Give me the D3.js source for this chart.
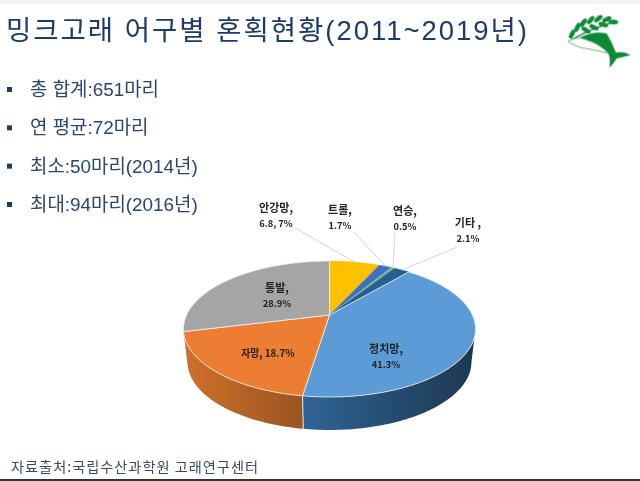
<!DOCTYPE html>
<html><head><meta charset="utf-8">
<script src="https://cdn.jsdelivr.net/npm/d3@7"></script>
<style>html,body{margin:0;padding:0;background:#fff;overflow:hidden}svg{display:block}</style>
</head><body><svg id="c" width="640" height="481"></svg>
<script>
const titleText = "밍크고래 어구별 혼획현황(2011~2019년)";
const bullets = ["총 합계:651마리","연 평균:72마리","최소:50마리(2014년)","최대:94마리(2016년)"];
const sourceText = "자료출처:국립수산과학원 고래연구센터";
const categories = ["안강망","트롤","연승","기타","정치망","자망","통발"];
const values = [6.8,1.7,0.5,2.1,41.3,18.7,28.9];
const sliceColors = ["#ffc000","#3f6fc4","#7db88a","#255e91","#5b9bd5","#ed7d31","#a5a5a5"];
const wallLight = {"정치망":"#2f6496","자망":"#d0702a","통발":"#8a8a8a"};
const wallDark = {"정치망":"#1e3850","자망":"#9a5522","통발":"#6e6e6e"};
const labelLines = [["안강망,","6.8, 7%"],["트롤,","1.7%"],["연승,","0.5%"],["기타 ,","2.1%"],["정치망,","41.3%"],["자망, 18.7%"],["통발,","28.9%"]];
const labelPos = [[276,208],[340,210],[405,211],[468,223],[386,349],[268,353],[277,288]];
const leaderStart = [[295,228],[353,231],[395,233],[457,247]];

const svg = d3.select("#c");
const defs = svg.append("defs");
const navy = "#1f3a68";
defs.append("filter").attr("id","soft").append("feGaussianBlur").attr("stdDeviation",0.35);
svg.append("rect").attr("width",640).attr("height",481).attr("fill","#fff");
svg.append("rect").attr("width",640).attr("height",4).attr("fill","#f4f4f4");
svg.append("rect").attr("y",479).attr("width",640).attr("height",2).attr("fill","#333");
const root = svg.append("g").attr("filter","url(#soft)");
const font = "'Liberation Sans','Noto Sans CJK KR',sans-serif";
const fontK = "'Noto Sans CJK KR','Noto Sans',sans-serif";

root.append("text").attr("x",6).attr("y",40).attr("font-family",font).attr("font-size",27.5)
  .attr("fill",navy).attr("textLength",521).attr("lengthAdjust","spacing").text(titleText);

const by = d3.scalePoint().domain(bullets).range([90,205]);
root.selectAll("rect.b").data(bullets).join("rect").attr("class","b")
  .attr("x",7).attr("y",d=>by(d)-3).attr("width",5).attr("height",5).attr("fill",navy);
root.selectAll("text.b").data(bullets).join("text").attr("class","b")
  .attr("x",30).attr("y",d=>by(d)+6).attr("font-family",font).attr("font-size",18.9).attr("fill","#2b4470").text(d=>d);

root.append("text").attr("x",11).attr("y",472).attr("font-family",fontK).attr("font-size",14.2).attr("fill","#3a4a60")
  .attr("textLength",247).text(sourceText);

// pie: d3.pie gives the angles; a perspective mapping tilts the disc
const pie = d3.pie().value(d=>d).sort(null);
const arcs = pie(values);
const cx=329.5, cy=315, fx=142.9, gy=65.1, k=0.206, depth=33, shrink=0.972;
const proj = (t)=>{const u=Math.sin(t),v=-Math.cos(t),w=1-k*v;return [cx+fx*u/w,cy+gy*v/w];};
const projLow = (t)=>{const p=proj(t);return [cx+(p[0]-cx)*shrink,p[1]+depth];};
const line = d3.line();
const samples = (a,b)=>{const n=Math.max(2,Math.ceil(Math.abs(b-a)/0.02));return d3.range(n+1).map(i=>a+(b-a)*i/n);};
const visA = Math.acos(-k), visB = 2*Math.PI-visA;

// side wall
arcs.forEach((d,i)=>{
  const a=Math.max(d.startAngle,visA), b=Math.min(d.endAngle,visB);
  if(b<=a) return;
  const name=categories[i], ts=samples(a,b);
  const pts=ts.map(proj).concat(ts.slice().reverse().map(projLow));
  const gid="w"+i, x0=d3.min(pts,p=>p[0]), x1=d3.max(pts,p=>p[0]);
  const g=defs.append("linearGradient").attr("id",gid).attr("gradientUnits","userSpaceOnUse")
    .attr("x1",x0).attr("x2",x1).attr("y1",0).attr("y2",0);
  g.append("stop").attr("offset",0).attr("stop-color",wallLight[name]);
  g.append("stop").attr("offset",1).attr("stop-color",wallDark[name]);
  root.append("path").attr("d",line(pts)+"Z").attr("fill",`url(#${gid})`).attr("stroke","none");
});
const seam=arcs[4].endAngle;
root.append("path").attr("d",line([proj(seam),projLow(seam)])).attr("stroke","#e8e8e8").attr("stroke-width",1).attr("fill","none");

// top face
root.selectAll("path.s").data(arcs).join("path").attr("class","s")
  .attr("d",d=>line([[cx,cy]].concat(samples(d.startAngle,d.endAngle).map(proj)))+"Z")
  .attr("fill",(d,i)=>sliceColors[i])
  .attr("stroke",(d,i)=>i<4?sliceColors[i]:"#f2f2f2").attr("stroke-width",(d,i)=>i<4?0.3:0.8).attr("stroke-linejoin","round");

// leaders
leaderStart.forEach((s,i)=>{
  const m=(arcs[i].startAngle+arcs[i].endAngle)/2;
  root.append("path").attr("d",line([s,proj(m)])).attr("stroke","#d4d4d4").attr("stroke-width",1).attr("fill","none");
});

// labels
const hasHangul = s=>/[가-힣]/.test(s), hasDigit = s=>/\d/.test(s);
labelLines.forEach((ls,i)=>{
  const t=root.append("text").attr("font-family",fontK).attr("font-weight",700)
    .attr("fill","#222").attr("text-anchor","middle");
  ls.forEach((s,j)=>t.append("tspan").attr("x",labelPos[i][0]).attr("y",labelPos[i][1]+3.5+j*15.5)
    .attr("font-size",hasHangul(s)?(hasDigit(s)?9.8:11):9.3).text(s));
});

// logo
const logo=root.append("g").attr("transform","translate(540,0) scale(0.3333)");
const leaf=[[96,102,-65],[112,82,-65],[130,68,-55],[152,60,-50],[175,56,-40],[200,58,-25],[220,66,5],[138,90,30],[162,82,25],[190,74,15]];
logo.append("path").attr("d","M88 125 Q130 95 222 66").attr("stroke","#12893a").attr("stroke-width",4).attr("fill","none");
logo.selectAll("ellipse").data(leaf).join("ellipse").attr("rx",15).attr("ry",7)
  .attr("transform",d=>`translate(${d[0]},${d[1]}) rotate(${d[2]})`).attr("fill","#0f8a36");
logo.append("path").attr("d","M120 112 Q160 92 200 100 Q215 125 228 158 Q250 152 272 165 Q245 172 230 175 Q222 190 208 203 Q212 175 205 160 Q180 130 135 118Z").attr("fill","#0f8a36");
logo.append("path").attr("d","M84 124 Q110 108 135 118 Q180 132 205 160 Q170 150 140 146 Q105 140 84 124Z").attr("fill","#fff").attr("stroke","#2a8a4a").attr("stroke-width",2);
</script></body></html>
